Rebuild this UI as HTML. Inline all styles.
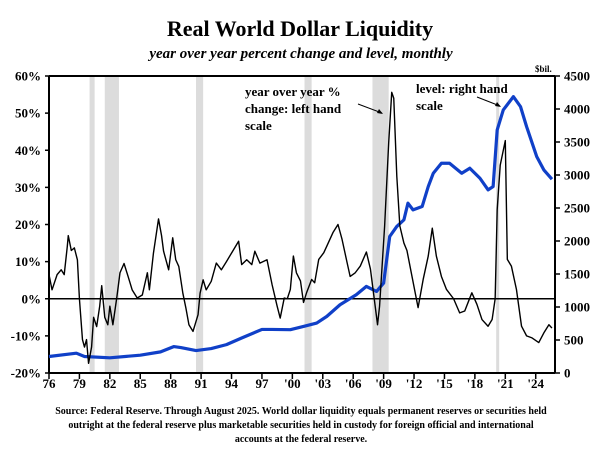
<!DOCTYPE html>
<html><head><meta charset="utf-8"><style>
body{margin:0;background:#fff;}
svg{display:block;font-family:"Liberation Serif",serif;}
</style></head><body>
<svg id="chart" width="602" height="453" viewBox="0 0 602 453">
<text x="300" y="36" text-anchor="middle" font-size="22" font-weight="bold">Real World Dollar Liquidity</text>
<text x="301" y="58" text-anchor="middle" font-size="15" font-weight="bold" font-style="italic">year over year percent change and level, monthly</text>
<text x="535" y="72" font-size="9" font-weight="bold">$bil.</text>
<g id="rec"></g>
<g id="axes"></g>
<g id="series"></g>
<g font-size="13" font-weight="bold">
<text x="245" y="96">year over year %</text>
<text x="245" y="113">change: left hand</text>
<text x="245" y="130">scale</text>
<line x1="358" y1="104" x2="382" y2="113" stroke="#000" stroke-width="1"/>
<path d="M383,114 l-6,-1 l2,-4 z" fill="#000"/>
</g>
<g font-size="13" font-weight="bold">
<text x="416" y="93">level: right hand</text>
<text x="416" y="110">scale</text>
<line x1="477" y1="97" x2="500" y2="106" stroke="#000" stroke-width="1"/>
<path d="M501,107 l-6,-1 l2,-4 z" fill="#000"/>
</g>
<g font-size="10" font-weight="bold" text-anchor="middle">
<text x="301" y="414">Source: Federal Reserve. Through August 2025. World dollar liquidity equals permanent reserves or securities held</text>
<text x="301" y="428">outright at the federal reserve plus marketable securities held in custody for foreign official and international</text>
<text x="301" y="442">accounts at the federal reserve.</text>
</g>
</svg>
<script>
const yoyYears=[1976.0,1976.3,1976.8,1977.2,1977.5,1977.8,1977.9,1978.2,1978.5,1978.8,1979.0,1979.3,1979.5,1979.7,1979.9,1980.2,1980.4,1980.7,1981.0,1981.2,1981.5,1981.8,1982.0,1982.3,1982.7,1983.0,1983.4,1983.8,1984.2,1984.7,1985.2,1985.7,1985.9,1986.3,1986.8,1987.1,1987.3,1987.8,1988.2,1988.5,1988.8,1989.2,1989.5,1989.8,1990.2,1990.7,1990.9,1991.2,1991.5,1992.0,1992.5,1993.0,1993.5,1994.0,1994.7,1995.0,1995.5,1996.0,1996.3,1996.8,1997.5,1998.0,1998.5,1998.8,1999.2,1999.5,1999.8,2000.1,2000.4,2000.8,2001.1,2001.4,2001.9,2002.2,2002.6,2003.1,2003.4,2004.0,2004.5,2004.9,2005.4,2005.7,2006.2,2006.7,2007.3,2007.7,2008.0,2008.4,2008.6,2009.1,2009.5,2009.8,2010.0,2010.3,2010.6,2011.0,2011.3,2011.8,2012.4,2012.9,2013.4,2013.8,2014.2,2014.7,2015.2,2015.9,2016.5,2017.0,2017.7,2018.2,2018.7,2019.3,2019.7,2020.0,2020.2,2020.5,2021.0,2021.2,2021.6,2022.1,2022.6,2023.1,2023.6,2024.3,2024.8,2025.3,2025.6];
const yoyValues=[6.5,2.4,6.5,7.8,6.5,14,17,13,13.7,10.5,0,-11,-13,-11,-17.4,-13,-5,-7.5,-2,3.5,-5,-7,-2,-7,0.6,7,9.5,6,2.4,0.2,1,7,2.4,12.3,21.5,17,12.8,7.8,16.4,10.5,8.7,1.5,-2.5,-7,-8.8,-4.3,1.5,5.1,2.4,4.7,9.6,7.8,10,12.3,15.5,9.2,10.5,9.2,12.8,9.6,10.5,3.8,-2,-5.2,0.2,0,2.5,11.5,7,4.8,-1,1.6,5.2,4.3,10.6,12.4,14.2,17.8,20,16,9.7,6,7,8.8,12.6,8,1.6,-7,-2,19.6,42,55.6,54,33,19.6,15,13,6,-2.4,5.2,11.5,19,11.5,6,2.5,0,-3.8,-3.3,1.6,-1.5,-5.6,-7.4,-5.6,0,24,36,42.6,10.6,8.8,2.5,-7.4,-10,-10.5,-11.8,-9.2,-7,-7.9];
const levelYears=[1976.0,1978.7,1979.5,1982.0,1985.0,1987.0,1988.3,1989.0,1990.5,1992.0,1993.5,1995.0,1997.0,1998.0,1999.8,2001.1,2002.4,2003.4,2004.7,2006.3,2007.3,2008.3,2009.0,2009.6,2010.3,2011.0,2011.4,2011.9,2012.8,2013.4,2013.9,2014.7,2015.5,2016.7,2017.5,2018.5,2019.3,2019.8,2020.2,2020.8,2021.8,2022.5,2023.1,2024.1,2024.8,2025.6];
const levelValues=[250,300,250,230,270,320,400,385,340,370,430,530,660,660,656,706,757,858,1034,1186,1312,1236,1362,2068,2220,2320,2573,2472,2522,2825,3027,3178,3178,3027,3103,2951,2775,2825,3683,3986,4187,4036,3733,3279,3077,2936];
const recessions=[[1980.0,1980.5],[1981.5,1982.9],[1990.5,1991.2],[2001.2,2001.9],[2007.9,2009.5],[2020.1,2020.3]];
const xTickLabels=["76","79","82","85","88","91","94","97","'00","'03","'06","'09","'12","'15","'18","'21","'24"];
const leftTicks=[60,50,40,30,20,10,0,-10,-20];
const rightTicks=[4500,4000,3500,3000,2500,2000,1500,1000,500,0];

const X0=49,X1=555,Y0=76,Y1=373;
const xs=y=>X0+(y-1976)*10.14;
const yl=v=>Y1-(v+20)/80*(Y1-Y0);
const yr=v=>Y1-v/4500*(Y1-Y0);
const NS="http://www.w3.org/2000/svg";
function mk(tag,attrs,parent){const e=document.createElementNS(NS,tag);for(const k in attrs)e.setAttribute(k,attrs[k]);parent.appendChild(e);return e;}
const rec=document.getElementById('rec'),axes=document.getElementById('axes'),ser=document.getElementById('series');
recessions.forEach(r=>{
  const e=mk('rect',{x:xs(r[0]),y:Y0,width:Math.max(3,xs(r[1])-xs(r[0])),height:Y1-Y0,fill:'#dcdcdc'},rec);
  
  
});
mk('line',{x1:X0,y1:Y0,x2:X1,y2:Y0,stroke:'#000','stroke-width':2},axes);
mk('line',{x1:X0,y1:Y1,x2:X1,y2:Y1,stroke:'#000','stroke-width':2},axes);
mk('line',{x1:X0,y1:Y0,x2:X0,y2:Y1,stroke:'#000','stroke-width':2},axes);
mk('line',{x1:X1,y1:Y0,x2:X1,y2:Y1,stroke:'#000','stroke-width':2},axes);
mk('line',{x1:X0,y1:yl(0),x2:X1,y2:yl(0),stroke:'#000','stroke-width':1.5},axes);
leftTicks.forEach(v=>{
  mk('line',{x1:X0-4,y1:yl(v),x2:X0,y2:yl(v),stroke:'#000','stroke-width':1.5},axes);
  const t=mk('text',{x:41,y:yl(v)+4.5,'text-anchor':'end','font-size':13,'font-weight':'bold'},axes);
  t.textContent=v+'%';
  
  
});
rightTicks.forEach(v=>{
  mk('line',{x1:X1,y1:yr(v),x2:X1+5,y2:yr(v),stroke:'#000','stroke-width':1.5},axes);
  const t=mk('text',{x:564,y:yr(v)+4.5,'font-size':13,'font-weight':'bold'},axes);
  t.textContent=v;
  
  
});
xTickLabels.forEach((l,i)=>{
  const x=xs(1976+3*i);
  mk('line',{x1:x,y1:Y1,x2:x,y2:Y1+6,stroke:'#000','stroke-width':1.5},axes);
  const t=mk('text',{x:x,y:388,'text-anchor':'middle','font-size':13,'font-weight':'bold'},axes);
  t.textContent=l;
  
  
});
const lv=mk('polyline',{points:levelYears.map((y,i)=>xs(y)+','+yr(levelValues[i])).join(' '),fill:'none',stroke:'#1040c8','stroke-width':3.2,'stroke-linejoin':'round'},ser);


const yy=mk('polyline',{points:yoyYears.map((y,i)=>xs(y)+','+yl(yoyValues[i])).join(' '),fill:'none',stroke:'#000','stroke-width':1.4,'stroke-linejoin':'round'},ser);


</script>
</body></html>
